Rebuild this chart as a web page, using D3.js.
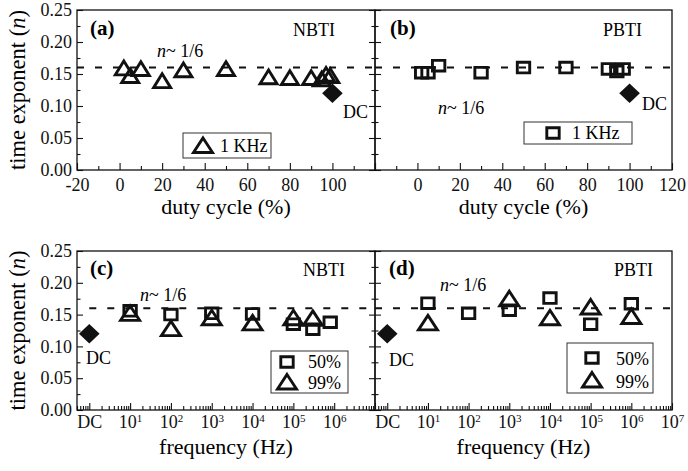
<!DOCTYPE html>
<html>
<head>
<meta charset="utf-8">
<script src="https://cdn.jsdelivr.net/npm/d3@7"></script>
<style>
body { margin: 0; background: #fff; }
svg { display: block; }
svg text { font-family: 'Liberation Serif', 'Times New Roman', serif; }
</style>
</head>
<body>
<div id="container"></div>
<script>
// (a) NBTI, 1 KHz, time exponent vs duty cycle
const dutyNbti = [2, 5, 10, 20, 30, 50, 70, 80, 90, 95, 97, 99];
const nNbtiDuty = [0.159, 0.147, 0.158, 0.139, 0.156, 0.158, 0.145, 0.144, 0.144, 0.142, 0.149, 0.147];
// (b) PBTI, 1 KHz
const dutyPbti = [2, 5, 10, 30, 50, 70, 90, 94, 97];
const nPbtiDuty = [0.152, 0.152, 0.163, 0.152, 0.160, 0.160, 0.158, 0.154, 0.158];
// DC points
const dcDuty = 100;
const dcFreq = 1;
const nDcNbti = 0.12;
const nDcPbti = 0.12;
// (c) NBTI vs frequency
const freqNbti50 = [10, 100, 1e3, 1e4, 1e5, 3e5, 8e5];
const nNbti50 = [0.156, 0.150, 0.152, 0.151, 0.135, 0.127, 0.138];
const freqNbti99 = [10, 100, 1e3, 1e4, 1e5, 3e5];
const nNbti99 = [0.152, 0.128, 0.145, 0.137, 0.145, 0.144];
// (d) PBTI vs frequency
const freqPbti50 = [10, 100, 1e3, 1e4, 1e5, 1e6];
const nPbti50 = [0.168, 0.152, 0.157, 0.176, 0.135, 0.167];
const freqPbti99 = [10, 1e3, 1e4, 1e5, 1e6];
const nPbti99 = [0.137, 0.175, 0.145, 0.162, 0.147];
// ticks
const dutyTicks = [-20, 0, 20, 40, 60, 80, 100, 120];
const dutyMinor = [-10, 10, 30, 50, 70, 90, 110];
const freqTicks = [1, 1e1, 1e2, 1e3, 1e4, 1e5, 1e6, 1e7];
const yTicks = [0, 0.05, 0.10, 0.15, 0.20, 0.25];
const yMinor = [0.025, 0.075, 0.125, 0.175, 0.225];
const nGuide = 0.16;

const serif = 'Liberation Serif, Times New Roman, serif';

const svg = d3.select('#container')
              .append('svg')
              .attr('width', 688)
              .attr('height', 471)
              .attr('font-family', serif);

const ink = '#111';

const shapes = {
    square: 'M-6.2,-5.3H6.2V5.3H-6.2Z',
    triangle: 'M0,-7.2L8.5,6.6L-8.5,6.6Z',
    bigTriangle: 'M0,-7.5L9.5,7L-9.5,7Z',
    diamond: 'M0,-9.8L10.3,0L0,9.8L-10.3,0Z'
};

const freqMinor = [];
d3.range(-1, 7).forEach(k => {
    d3.range(2, 10).forEach(m => {
        const v = m * Math.pow(10, k);
        if (v >= 0.5 && v <= 1e7) freqMinor.push(v);
    });
});

const panels = [
    {
        left: 77, top: 10, width: 298, height: 160, log: false, yLabels: true, hideTick: 120,
        tag: '(a)', tagX: 13, kind: 'NBTI', kindX: 258, tagY: 25,
        series: [{ xs: dutyNbti, ys: nNbtiDuty, shape: 'triangle' }],
        dc: { x: dcDuty, y: nDcNbti }, dcLabel: [266, 108],
        guideStart: -20, nLabel: [80, 47],
        legend: { x: 106, y: 123, w: 88, h: 25, items: [{ shape: 'bigTriangle', text: '1 KHz', mx: 20, my: 12.5, tx: 37, ty: 18.5 }] },
        xTitle: 'duty cycle (%)', xPad: 9
    },
    {
        left: 375, top: 10, width: 297, height: 160, log: false, yLabels: false, hideTick: -20,
        tag: '(b)', tagX: 15, kind: 'PBTI', kindX: 267, tagY: 25,
        series: [{ xs: dutyPbti, ys: nPbtiDuty, shape: 'square' }],
        dc: { x: dcDuty, y: nDcPbti }, dcLabel: [267, 100],
        guideStart: -20, nLabel: [63, 104],
        legend: { x: 149, y: 112, w: 108, h: 22, items: [{ shape: 'square', text: '1 KHz', mx: 29, my: 11, tx: 48, ty: 17 }] },
        xTitle: 'duty cycle (%)', xPad: 9
    },
    {
        left: 77, top: 251, width: 298, height: 159, log: true, yLabels: true, hideTick: 1e7,
        tag: '(c)', tagX: 13, kind: 'NBTI', kindX: 268, tagY: 24,
        series: [{ xs: freqNbti50, ys: nNbti50, shape: 'square' },
                 { xs: freqNbti99, ys: nNbti99, shape: 'bigTriangle' }],
        dc: { x: dcFreq, y: nDcNbti }, dcLabel: [9, 113],
        guideStart: dcFreq, nLabel: [63, 50],
        legend: { x: 194, y: 100, w: 77, h: 42, items: [
            { shape: 'square', text: '50%', mx: 16, my: 11, tx: 37, ty: 17 },
            { shape: 'bigTriangle', text: '99%', mx: 16, my: 31, tx: 37, ty: 38 }] },
        xTitle: 'frequency (Hz)', xPad: 6
    },
    {
        left: 375, top: 251, width: 297, height: 159, log: true, yLabels: false, hideTick: null,
        tag: '(d)', tagX: 14, kind: 'PBTI', kindX: 278, tagY: 24,
        series: [{ xs: freqPbti50, ys: nPbti50, shape: 'square' },
                 { xs: freqPbti99, ys: nPbti99, shape: 'bigTriangle' }],
        dc: { x: dcFreq, y: nDcPbti }, dcLabel: [14, 115],
        guideStart: 0.5, nLabel: [65, 40],
        legend: { x: 192, y: 92, w: 86, h: 50, items: [
            { shape: 'square', text: '50%', mx: 25, my: 15, tx: 49, ty: 22 },
            { shape: 'bigTriangle', text: '99%', mx: 25, my: 37, tx: 49, ty: 45 }] },
        xTitle: 'frequency (Hz)', xPad: 6
    }
];

function styleAxis(sel, size) {
    sel.attr('font-family', serif)
       .attr('font-size', size);
    sel.select('.domain').remove();
    sel.selectAll('.tick line').attr('stroke', ink).attr('stroke-width', 1.1);
    sel.selectAll('.tick text').attr('fill', ink);
}

panels.forEach(p => {
    const g = svg.append('g').attr('transform', `translate(${p.left},${p.top})`);

    const x = p.log ? d3.scaleLog().domain([0.5, 1e7]) : d3.scaleLinear().domain([-20, 120]);
    x.range([0, p.width]);
    const y = d3.scaleLinear().domain([0, 0.25]).range([p.height, 0]);

    // bottom axis
    const xFormat = p.log
        ? (d => d === p.hideTick ? '' : (d === 1 ? 'DC' : '10'))
        : (d => d === p.hideTick ? '' : String(d));
    g.append('g')
     .attr('transform', `translate(0,${p.height})`)
     .call(d3.axisBottom(x).tickValues(p.log ? freqTicks : dutyTicks).tickSize(-7).tickPadding(p.xPad - 1).tickFormat(xFormat))
     .call(s => styleAxis(s, 18))
     .selectAll('.tick text')
     .each(function(d) {
         if (p.log && d > 1 && d !== p.hideTick) {
             d3.select(this).append('tspan')
               .attr('dy', '-0.5em')
               .attr('font-size', 11)
               .text(Math.round(Math.log10(d)));
         }
     });
    g.append('g')
     .attr('transform', `translate(0,${p.height})`)
     .call(d3.axisBottom(x).tickValues(p.log ? freqMinor : dutyMinor).tickSize(-4).tickFormat(''))
     .call(s => styleAxis(s, 18));

    // left axis
    g.append('g')
     .call(d3.axisLeft(y).tickValues(yTicks).tickSize(-6).tickPadding(5)
              .tickFormat(p.yLabels ? d3.format('.2f') : ''))
     .call(s => styleAxis(s, 18));
    g.append('g')
     .call(d3.axisLeft(y).tickValues(yMinor).tickSize(-3.5).tickFormat(''))
     .call(s => styleAxis(s, 18));
    // right axis ticks of the left panels
    if (p.yLabels) {
        g.append('g')
         .attr('transform', `translate(${p.width},0)`)
         .call(d3.axisRight(y).tickValues(yTicks).tickSize(-6).tickFormat(''))
         .call(s => styleAxis(s, 18));
        g.append('g')
         .attr('transform', `translate(${p.width},0)`)
         .call(d3.axisRight(y).tickValues(yMinor).tickSize(-3.5).tickFormat(''))
         .call(s => styleAxis(s, 18));
    }

    // frame
    g.append('rect')
     .attr('width', p.width)
     .attr('height', p.height)
     .attr('fill', 'none')
     .attr('stroke', ink)
     .attr('stroke-width', 1.3);

    // n ~ 1/6 guide
    g.append('line')
     .attr('x1', x(p.guideStart))
     .attr('x2', p.width)
     .attr('y1', y(nGuide))
     .attr('y2', y(nGuide))
     .attr('stroke', ink)
     .attr('stroke-width', 2)
     .attr('stroke-dasharray', '7,11');

    // data
    p.series.forEach(s => {
        g.selectAll(null)
         .data(s.xs.map((v, i) => [v, s.ys[i]]))
         .enter()
         .append('path')
         .attr('d', shapes[s.shape])
         .attr('transform', d => `translate(${x(d[0])},${y(d[1])})`)
         .attr('fill', 'none')
         .attr('stroke', ink)
         .attr('stroke-width', 2.9)
         .attr('stroke-linejoin', 'miter');
    });
    g.append('path')
     .attr('d', shapes.diamond)
     .attr('transform', `translate(${x(p.dc.x)},${y(p.dc.y)})`)
     .attr('fill', ink);

    // texts
    g.append('text')
     .attr('x', p.tagX).attr('y', p.tagY)
     .attr('font-size', 21).attr('font-weight', 'bold')
     .text(p.tag);
    g.append('text')
     .attr('x', p.kindX).attr('y', p.tagY + 1)
     .attr('text-anchor', 'end')
     .attr('font-size', 18)
     .text(p.kind);
    const nl = g.append('text')
                .attr('x', p.nLabel[0]).attr('y', p.nLabel[1])
                .attr('font-size', 18);
    nl.append('tspan').attr('font-style', 'italic').text('n');
    nl.append('tspan').text('~ 1/6');
    g.append('text')
     .attr('x', p.dcLabel[0]).attr('y', p.dcLabel[1])
     .attr('font-size', 18)
     .text('DC');

    // legend
    const lg = g.append('g').attr('transform', `translate(${p.legend.x},${p.legend.y})`);
    lg.append('rect')
      .attr('width', p.legend.w)
      .attr('height', p.legend.h)
      .attr('fill', '#fff')
      .attr('stroke', '#333')
      .attr('stroke-width', 1);
    p.legend.items.forEach(it => {
        lg.append('path')
          .attr('d', shapes[it.shape])
          .attr('transform', `translate(${it.mx},${it.my})`)
          .attr('fill', 'none')
          .attr('stroke', ink)
          .attr('stroke-width', 2.9);
        lg.append('text')
          .attr('x', it.tx).attr('y', it.ty)
          .attr('font-size', 18)
          .text(it.text);
    });

    // axis titles
    g.append('text')
     .attr('x', p.width / 2)
     .attr('y', p.height + 44)
     .attr('text-anchor', 'middle')
     .attr('font-size', 22)
     .text(p.xTitle);
    if (p.yLabels) {
        const yt = g.append('text')
                    .attr('transform', `translate(${25 - p.left},${p.height / 2}) rotate(-90)`)
                    .attr('text-anchor', 'middle')
                    .attr('font-size', 22.5);
        yt.append('tspan').text('time exponent (');
        yt.append('tspan').attr('font-style', 'italic').text('n');
        yt.append('tspan').text(')');
    }
});
</script>
</body>
</html>
